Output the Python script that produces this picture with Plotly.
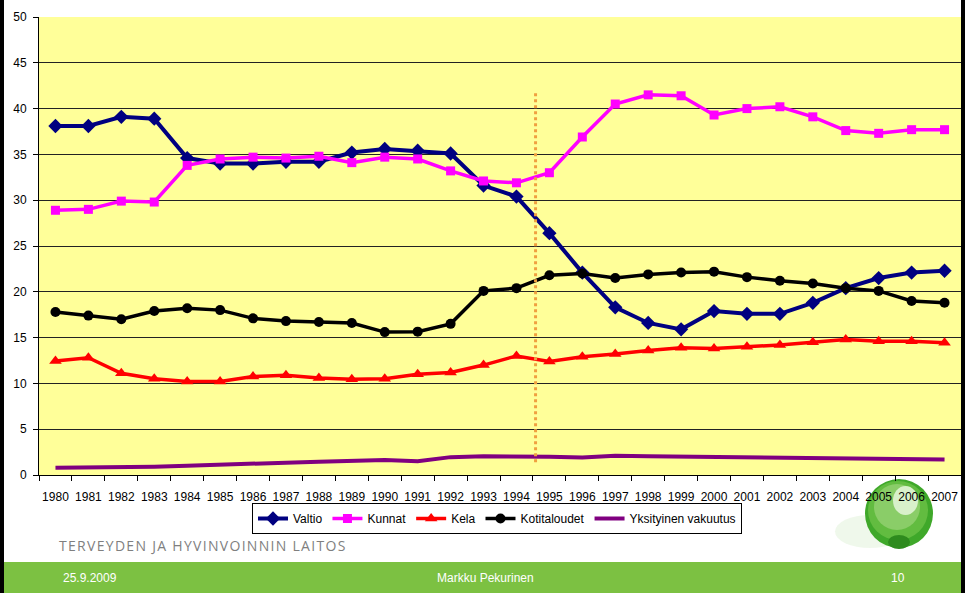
import plotly.graph_objects as go

years = ["1980", "1981", "1982", "1983", "1984", "1985", "1986", "1987", "1988", "1989",
         "1990", "1991", "1992", "1993", "1994", "1995", "1996", "1997", "1998", "1999",
         "2000", "2001", "2002", "2003", "2004", "2005", "2006", "2007"]

valtio = [38.1, 38.1, 39.1, 38.9, 34.6, 34.0, 34.0, 34.2, 34.2, 35.2, 35.6, 35.4, 35.1, 31.6,
          30.4, 26.4, 22.1, 18.3, 16.6, 15.9, 17.9, 17.6, 17.6, 18.8, 20.4, 21.5, 22.1, 22.3]
kunnat = [28.9, 29.0, 29.9, 29.8, 33.8, 34.5, 34.7, 34.6, 34.8, 34.1, 34.7, 34.5, 33.2, 32.1,
          31.9, 33.0, 36.9, 40.5, 41.5, 41.4, 39.3, 40.0, 40.2, 39.1, 37.6, 37.3, 37.7, 37.7]
kela = [12.45, 12.8, 11.1, 10.5, 10.2, 10.2, 10.75, 10.9, 10.6, 10.45, 10.5, 11.0, 11.2, 12.0,
        13.0, 12.4, 12.9, 13.2, 13.6, 13.9, 13.8, 14.0, 14.2, 14.5, 14.8, 14.6, 14.6, 14.45]
kotitaloudet = [17.8, 17.4, 17.0, 17.9, 18.2, 18.0, 17.1, 16.8, 16.7, 16.6, 15.6, 15.65, 16.5, 20.1,
                20.4, 21.8, 22.0, 21.5, 21.9, 22.1, 22.2, 21.6, 21.2, 20.9, 20.4, 20.1, 19.0, 18.8]
yksityinen = [0.8, 0.8, 0.85, 0.9, 1.0, 1.15, 1.3, 1.35, 1.45, 1.55, 1.65, 1.5, 1.95, 2.05,
              2.05, 2.0, 1.9, 2.1, 2.05, 2.0, 2.0, 1.9, 1.85, 1.85, 1.8, 1.75, 1.75, 1.7]

series_names = ["Valtio", "Kunnat", "Kela", "Kotitaloudet", "Yksityinen vakuutus"]
y_ticks = [0, 5, 10, 15, 20, 25, 30, 35, 40, 45, 50]

W, H = 965, 593
ML, MR, MT, MB = 39, 4, 17, 118
PW, PH = W - ML - MR, H - MT - MB


def px_x(p):
    return (p - ML) / PW


def px_y(p):
    return (H - MB - p) / PH


FONT = "Arial, Liberation Sans, sans-serif"

fig = go.Figure()

styles = [
    (valtio, "#000080", "diamond", 11, 4),
    (kunnat, "#FF00FF", "square", 9, 3.5),
    (kela, "#FF0000", "triangle-up", 11, 3.5),
    (kotitaloudet, "#000000", "circle", 10, 3.5),
    (yksityinen, "#800080", None, 0, 4),
]
for name, (vals, color, sym, msize, lw) in zip(series_names, styles):
    if sym:
        fig.add_trace(go.Scatter(x=years, y=vals, name=name, mode="lines+markers",
                                 line=dict(color=color, width=lw),
                                 marker=dict(symbol=sym, size=msize, color=color)))
    else:
        fig.add_trace(go.Scatter(x=years, y=vals, name=name, mode="lines",
                                 line=dict(color=color, width=lw)))

shapes = []
# dotted vertical marker line between 1994 and 1995
shapes.append(dict(type="line", xref="x", yref="y", x0=14.58, x1=14.58, y0=1.4, y1=41.8,
                   line=dict(color="#F0A040", width=3, dash="dot"), layer="above"))
# green footer bar
shapes.append(dict(type="rect", xref="paper", yref="paper", x0=px_x(0), x1=px_x(W),
                   y0=px_y(H + 2), y1=px_y(562), fillcolor="#7CC142", line=dict(width=0),
                   layer="below"))
# slide side borders
shapes.append(dict(type="rect", xref="paper", yref="paper", x0=px_x(-2), x1=px_x(4),
                   y0=px_y(H + 2), y1=px_y(-2), fillcolor="#000000", line=dict(width=0),
                   layer="above"))
shapes.append(dict(type="rect", xref="paper", yref="paper", x0=px_x(961), x1=px_x(W + 2),
                   y0=px_y(H + 2), y1=px_y(-2), fillcolor="#000000", line=dict(width=0),
                   layer="above"))
# logo: green sphere with motion tail
shapes.append(dict(type="circle", xref="paper", yref="paper", x0=px_x(835), x1=px_x(905),
                   y0=px_y(548), y1=px_y(515), fillcolor="rgba(150,210,120,0.15)",
                   line=dict(width=0), layer="below"))
shapes.append(dict(type="circle", xref="paper", yref="paper", x0=px_x(865), x1=px_x(933),
                   y0=px_y(548), y1=px_y(479), fillcolor="#3FA82A", line=dict(width=0),
                   layer="below"))
shapes.append(dict(type="circle", xref="paper", yref="paper", x0=px_x(868), x1=px_x(928),
                   y0=px_y(540), y1=px_y(481), fillcolor="#62BC40", line=dict(width=0),
                   layer="below"))
shapes.append(dict(type="circle", xref="paper", yref="paper", x0=px_x(874), x1=px_x(920),
                   y0=px_y(530), y1=px_y(484), fillcolor="#8ACD68", line=dict(width=0),
                   layer="below"))
shapes.append(dict(type="circle", xref="paper", yref="paper", x0=px_x(893), x1=px_x(918),
                   y0=px_y(515), y1=px_y(486), fillcolor="#D8F0CA", line=dict(width=0),
                   layer="below"))
shapes.append(dict(type="circle", xref="paper", yref="paper", x0=px_x(888), x1=px_x(910),
                   y0=px_y(549), y1=px_y(535), fillcolor="#2E8B1E", line=dict(width=0),
                   layer="below"))

annotations = [
    dict(text='<span style="letter-spacing:1.3px">TERVEYDEN JA HYVINVOINNIN LAITOS</span>',
         xref="paper", yref="paper",
         x=px_x(57), y=px_y(545), xanchor="left", yanchor="middle", showarrow=False,
         font=dict(family="Open Sans, Noto Sans, sans-serif", size=14, color="#7F7F7F")),
    dict(text="25.9.2009", xref="paper", yref="paper", x=px_x(61), y=px_y(578),
         xanchor="left", yanchor="middle", showarrow=False,
         font=dict(family=FONT, size=12, color="#FFFFFF")),
    dict(text="Markku Pekurinen", xref="paper", yref="paper", x=px_x(485), y=px_y(578),
         xanchor="center", yanchor="middle", showarrow=False,
         font=dict(family=FONT, size=12, color="#FFFFFF")),
    dict(text="10", xref="paper", yref="paper", x=px_x(898), y=px_y(578),
         xanchor="center", yanchor="middle", showarrow=False,
         font=dict(family=FONT, size=12, color="#FFFFFF")),
]

fig.update_layout(
    width=W, height=H,
    margin=dict(l=ML, r=MR, t=MT, b=MB, pad=0, autoexpand=False),
    paper_bgcolor="#FFFFFF",
    plot_bgcolor="#FFFF99",
    font=dict(family=FONT, size=12, color="#000000"),
    showlegend=True,
    legend=dict(orientation="h", x=px_x(252), y=px_y(503), xanchor="left", yanchor="top",
                bgcolor="#FFFFFF", bordercolor="#000000", borderwidth=1,
                font=dict(family=FONT, size=12, color="#000000"), itemwidth=30,
                tracegroupgap=0),
    shapes=shapes,
    annotations=annotations,
    xaxis=dict(type="category", range=[-0.5, 27.5], showgrid=False, showline=True,
               linecolor="#000000", linewidth=1, ticks="outside", tickson="boundaries",
               ticklen=5, tickcolor="#000000", tickangle=0, automargin=False,
               tickfont=dict(family=FONT, size=12), ticklabelstandoff=11, fixedrange=True),
    yaxis=dict(range=[0, 50], tickvals=y_ticks, showgrid=True, gridcolor="#222222",
               gridwidth=1, showline=True, linecolor="#000000", linewidth=1,
               ticks="outside", ticklen=5, tickcolor="#000000", zeroline=False,
               automargin=False, tickfont=dict(family=FONT, size=12),
               ticklabelstandoff=4, fixedrange=True),
)

fig.write_html(
    "out.html",
    config={"displayModeBar": False, "staticPlot": True},
    post_script="document.body.style.margin='0';document.body.style.overflow='hidden';",
)
